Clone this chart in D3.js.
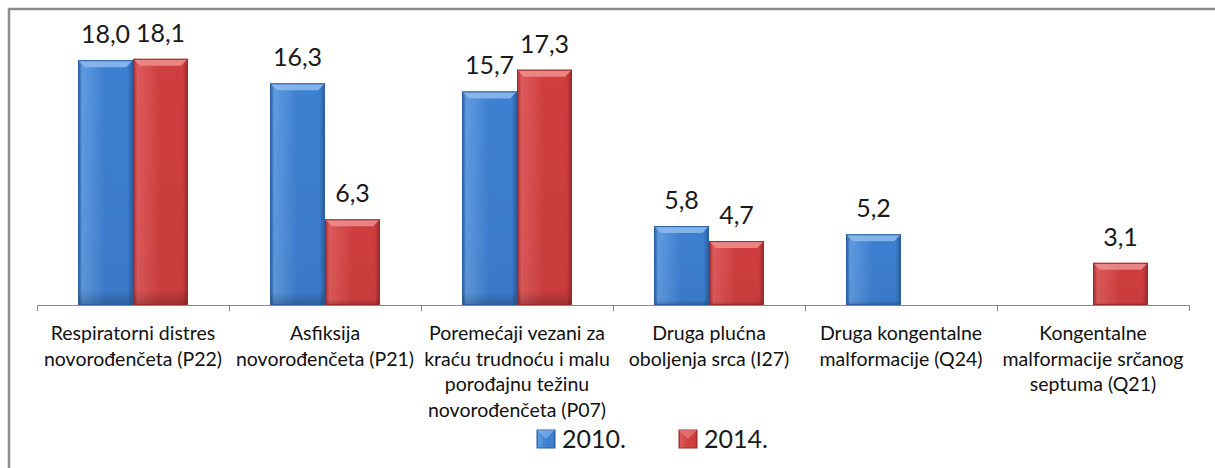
<!DOCTYPE html>
<html>
<head>
<meta charset="utf-8">
<script src="https://cdn.jsdelivr.net/npm/d3@7"></script>
<style>
  body { margin: 0; background: #fff; }
  svg { display: block; font-family: Lato, "Open Sans", sans-serif; }
</style>
</head>
<body>
<svg id="chart" width="1215" height="468"></svg>
<script>
// chart data
var categories = [
  ["Respiratorni distres", "novorođenčeta (P22)"],
  ["Asfiksija", "novorođenčeta (P21)"],
  ["Poremećaji vezani za", "kraću trudnoću i malu", "porođajnu težinu", "novorođenčeta (P07)"],
  ["Druga plućna", "oboljenja srca (I27)"],
  ["Druga kongentalne", "malformacije (Q24)"],
  ["Kongentalne", "malformacije srčanog", "septuma (Q21)"]
];
var series = ["2010.", "2014."];
var values2010 = [18.0, 16.3, 15.7, 5.8, 5.2, null];
var values2014 = [18.1, 6.3, 17.3, 4.7, null, 3.1];

var W = 1215, H = 468;
var plot = {left: 37, right: 1189, top: 33, bottom: 305};

var svg = d3.select("#chart");

// outer frame (only top and left show in the picture)
svg.append("rect")
  .attr("x", 9).attr("y", 9)
  .attr("width", W + 20).attr("height", H + 20)
  .attr("fill", "none")
  .attr("stroke", "#8c8c8c")
  .attr("stroke-width", 2.5);

var x = d3.scaleBand()
  .domain(d3.range(categories.length))
  .range([plot.left, plot.right])
  .paddingInner(0.427)
  .paddingOuter(0.2135);

var xs = d3.scaleBand()
  .domain(series)
  .range([0, x.bandwidth()]);

var y = d3.scaleLinear().domain([0, 20]).range([plot.bottom, plot.top]);

var colors = {
  "2010.": {mid: "#3d7fd0", light: "#5f9be0", dark: "#2a5c9e", top: "#8cb8ec"},
  "2014.": {mid: "#d03e3e", light: "#de5b5b", dark: "#9c2a2a", top: "#ec8c8c"}
};

var defs = svg.append("defs");
series.forEach(function(s, i) {
  var c = colors[s];
  var g = defs.append("linearGradient").attr("id", "grad" + i)
    .attr("x1", "0").attr("x2", "1").attr("y1", "0").attr("y2", "0");
  g.append("stop").attr("offset", "0").attr("stop-color", c.dark);
  g.append("stop").attr("offset", "0.08").attr("stop-color", c.light);
  g.append("stop").attr("offset", "0.5").attr("stop-color", c.mid);
  g.append("stop").attr("offset", "0.9").attr("stop-color", c.mid);
  g.append("stop").attr("offset", "1").attr("stop-color", c.dark);
  var v = defs.append("linearGradient").attr("id", "vgrad" + i)
    .attr("x1", "0").attr("x2", "0").attr("y1", "0").attr("y2", "1");
  v.append("stop").attr("offset", "0").attr("stop-color", "#000").attr("stop-opacity", 0);
  v.append("stop").attr("offset", "0.94").attr("stop-color", "#000").attr("stop-opacity", 0.04);
  v.append("stop").attr("offset", "1").attr("stop-color", "#000").attr("stop-opacity", 0.25);
});

var rows = [];
categories.forEach(function(c, i) {
  [values2010[i], values2014[i]].forEach(function(v, j) {
    if (v != null) rows.push({cat: i, s: series[j], si: j, v: v});
  });
});

var bars = svg.append("g").selectAll("g.bar").data(rows).enter().append("g").attr("class", "bar");

bars.each(function(d) {
  var g = d3.select(this);
  var bx = x(d.cat) + xs(d.s), bw = xs.bandwidth();
  var by = y(d.v), bh = y(0) - y(d.v);
  var c = colors[d.s];
  var b = 7;
  g.append("rect").attr("x", bx).attr("y", by).attr("width", bw).attr("height", bh)
    .attr("fill", "url(#grad" + d.si + ")");
  g.append("rect").attr("x", bx).attr("y", by).attr("width", bw).attr("height", bh)
    .attr("fill", "url(#vgrad" + d.si + ")");
  // top bevel
  g.append("polygon")
    .attr("points", [[bx, by], [bx + bw, by], [bx + bw - b, by + b], [bx + b, by + b]].map(function(p) { return p.join(","); }).join(" "))
    .attr("fill", c.top).attr("opacity", 0.9);
  g.append("rect").attr("x", bx + 0.5).attr("y", by + 0.5).attr("width", bw - 1).attr("height", bh - 1)
    .attr("fill", "none").attr("stroke", c.dark).attr("stroke-width", 1);
});

// value labels
svg.append("g").selectAll("text").data(rows).enter().append("text")
  .attr("x", function(d) { return x(d.cat) + xs(d.s) + xs.bandwidth() / 2; })
  .attr("y", function(d) { return y(d.v) - 17; })
  .attr("text-anchor", "middle")
  .attr("font-size", 25)
  .attr("fill", "#1a1a1a")
  .text(function(d) { return d3.format(".1f")(d.v).replace(".", ","); });

// category axis
var step = x.step();
var axis = svg.append("g");
axis.append("line")
  .attr("x1", plot.left).attr("x2", plot.right)
  .attr("y1", y(0) + 0.5).attr("y2", y(0) + 0.5)
  .attr("stroke", "#8a8a8a").attr("stroke-width", 1);
axis.selectAll("line.tick").data(d3.range(categories.length + 1)).enter().append("line")
  .attr("class", "tick")
  .attr("x1", function(i) { return plot.left + i * step + 0.5; })
  .attr("x2", function(i) { return plot.left + i * step + 0.5; })
  .attr("y1", y(0)).attr("y2", y(0) + 6)
  .attr("stroke", "#8a8a8a");

var labels = axis.selectAll("text.cat").data(categories).enter().append("text")
  .attr("class", "cat")
  .attr("text-anchor", "middle")
  .attr("font-size", 19.5)
  .attr("fill", "#111")
  .attr("transform", function(d, i) { return "translate(" + (x(i) + x.bandwidth() / 2) + "," + 340 + ")"; });
labels.selectAll("tspan").data(function(d) { return d; }).enter().append("tspan")
  .attr("x", 0)
  .attr("dy", function(d, i) { return i === 0 ? 0 : 25.5; })
  .text(function(d) { return d; });

// legend
var legend = svg.append("g").selectAll("g").data(series).enter().append("g")
  .attr("transform", function(d, i) { return "translate(" + (537 + i * 142) + ",430)"; });
legend.append("rect").attr("width", 18).attr("height", 18)
  .attr("fill", function(d, i) { return "url(#grad" + i + ")"; })
  .attr("stroke", function(d) { return colors[d].dark; });
legend.append("polygon")
  .attr("points", "0,0 18,0 9,9")
  .attr("fill", function(d) { return colors[d].top; }).attr("opacity", 0.6);
legend.append("text")
  .attr("x", 25).attr("y", 18)
  .attr("font-size", 25)
  .attr("fill", "#1a1a1a")
  .text(function(d) { return d; });
</script>
</body>
</html>
